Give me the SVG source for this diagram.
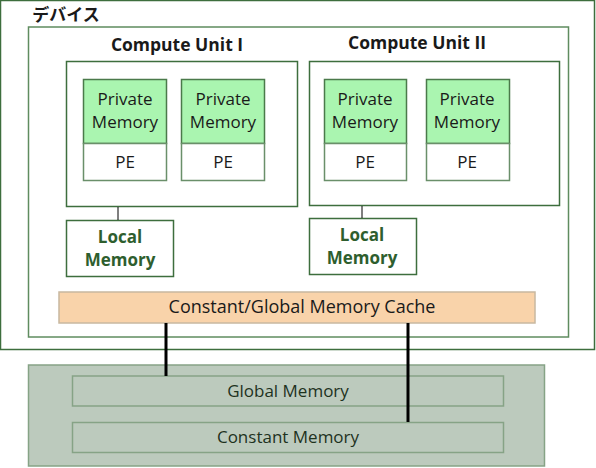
<svg xmlns="http://www.w3.org/2000/svg" width="596" height="468" viewBox="0 0 596 468">
<style>
text{font-family:"Open Sans","Noto Sans","Noto Sans CJK JP",sans-serif;font-size:17px;text-anchor:middle;fill:#1a1a1a}
.jp{font-family:"Noto Sans CJK JP",sans-serif;font-weight:bold;font-size:17px}
.b{font-weight:bold;font-size:17.5px}
.box{fill:#fff;stroke:#3d6e3d;stroke-width:1.5}
.inner{fill:#fff;stroke:#5f8c5f;stroke-width:1.5}
.pm{fill:#aaf5b0;stroke:#4a7a4a;stroke-width:1.5}
.pe{fill:#fff;stroke:#6a8f6a;stroke-width:1.5}
.lm{font-weight:bold;fill:#2e5e2e}
.conn{stroke:#000;fill:none}
.mem{fill:#bccabd;stroke:#86a386;stroke-width:1.5}
.mt{fill:#1e321e}
</style>
<g id="device">
<rect x="0.5" y="0.5" width="594" height="349" class="box"/>
<text x="66" y="21" class="jp">デバイス</text>
</g>
<g id="device-inner"><rect x="28.5" y="27" width="540" height="310" class="inner"/></g>
<g id="cu1">
<text x="177" y="51" class="b">Compute Unit I</text>
<rect x="66.5" y="61.5" width="231" height="145" class="box"/>
</g>
<g id="pm1"><rect x="83.5" y="79.5" width="83" height="64" class="pm"/><text x="125" y="105">Private</text><text x="125" y="128">Memory</text></g>
<g id="pe1"><rect x="83.5" y="143.5" width="83" height="37" class="pe"/><text x="125" y="168">PE</text></g>
<g id="pm2"><rect x="181.5" y="79.5" width="83" height="64" class="pm"/><text x="223" y="105">Private</text><text x="223" y="128">Memory</text></g>
<g id="pe2"><rect x="181.5" y="143.5" width="83" height="37" class="pe"/><text x="223" y="168">PE</text></g>
<g id="lm1"><rect x="66.5" y="220.5" width="107" height="56" class="box"/><text x="120" y="243" class="lm">Local</text><text x="120" y="266" class="lm">Memory</text></g>
<g id="cu2">
<text x="417" y="49" class="b">Compute Unit II</text>
<rect x="309.5" y="61.5" width="250" height="144" class="box"/>
</g>
<g id="pm3"><rect x="324.5" y="79.5" width="82" height="64" class="pm"/><text x="365" y="105">Private</text><text x="365" y="128">Memory</text></g>
<g id="pe3"><rect x="324.5" y="143.5" width="82" height="37" class="pe"/><text x="365" y="168">PE</text></g>
<g id="pm4"><rect x="426.5" y="79.5" width="83" height="64" class="pm"/><text x="467" y="105">Private</text><text x="467" y="128">Memory</text></g>
<g id="pe4"><rect x="426.5" y="143.5" width="83" height="37" class="pe"/><text x="467" y="168">PE</text></g>
<g id="lm2"><rect x="309.5" y="218.5" width="107" height="56" class="box"/><text x="362" y="241" class="lm">Local</text><text x="362" y="264" class="lm">Memory</text></g>
<g id="cache"><rect x="59" y="292" width="476" height="31" fill="#f9d3aa" stroke="#c8b8a0" stroke-width="1.5"/><text x="302" y="313" style="font-size:18px">Constant/Global Memory Cache</text></g>
<g id="memory-area"><rect x="28.5" y="365" width="516" height="101" class="mem"/></g>
<g id="global"><rect x="72.5" y="376" width="431" height="30" class="mem"/><text x="288" y="397" class="mt">Global Memory</text></g>
<g id="constant"><rect x="72.5" y="422.5" width="431" height="30" class="mem"/><text x="288" y="443" class="mt">Constant Memory</text></g>
<g id="connectors">
<line x1="118" y1="207" x2="118" y2="220" class="conn" stroke-width="1"/>
<line x1="362" y1="206" x2="362" y2="218" class="conn" stroke-width="1"/>
<line x1="166" y1="323" x2="166" y2="376" class="conn" stroke-width="3"/>
<line x1="408" y1="323" x2="408" y2="422" class="conn" stroke-width="3"/>
</g>
</svg>
